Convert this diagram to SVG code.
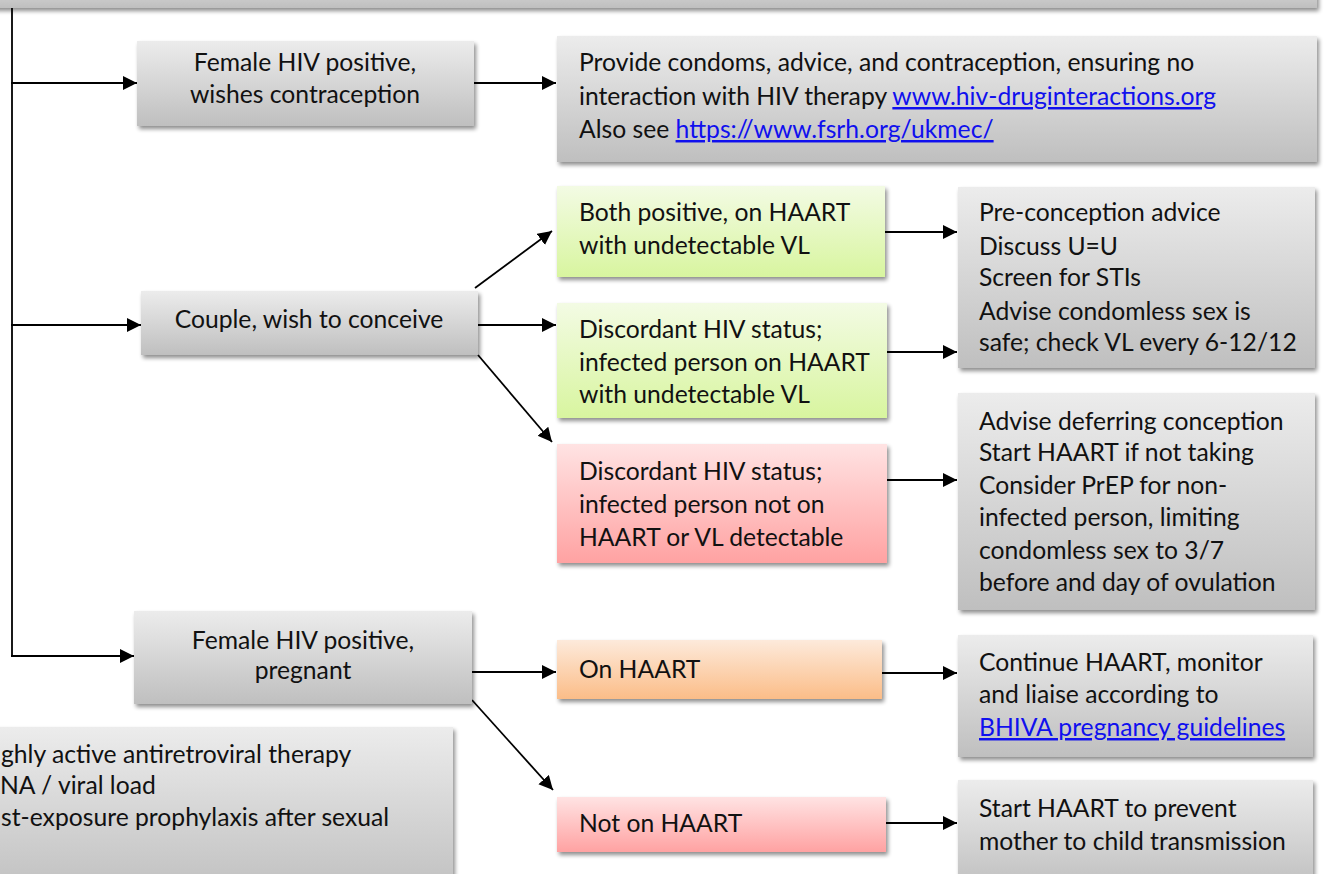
<svg xmlns="http://www.w3.org/2000/svg" width="1324" height="874" viewBox="0 0 1324 874">
<style>
text{font-family:Lato,"Open Sans","Liberation Sans",sans-serif;font-size:24.7px;fill:#111}
.c{text-anchor:middle}
.lk{fill:#1010ee;text-decoration:underline}
.con{stroke:#000;stroke-width:1.8;fill:none;marker-end:url(#ah)}
.gy{fill:url(#gGray);filter:url(#sh)}
.gn{fill:url(#gGreen);filter:url(#sh)}
.rd{fill:url(#gRed);filter:url(#sh)}
.or{fill:url(#gOrange);filter:url(#sh)}
</style>
<defs>
<linearGradient id="gGray" x1="0" y1="0" x2="0" y2="1"><stop offset="0" stop-color="#ececec"/><stop offset="1" stop-color="#bfbfbf"/></linearGradient>
<linearGradient id="gGreen" x1="0" y1="0" x2="0" y2="1"><stop offset="0" stop-color="#f3fbe4"/><stop offset="1" stop-color="#d8f59f"/></linearGradient>
<linearGradient id="gRed" x1="0" y1="0" x2="0" y2="1"><stop offset="0" stop-color="#ffe3e3"/><stop offset="1" stop-color="#ffa2a2"/></linearGradient>
<linearGradient id="gOrange" x1="0" y1="0" x2="0" y2="1"><stop offset="0" stop-color="#fdeadb"/><stop offset="1" stop-color="#fbbd88"/></linearGradient>
<filter id="sh" x="-5%" y="-10%" width="112%" height="130%">
<feGaussianBlur in="SourceAlpha" stdDeviation="2"/>
<feOffset dx="2" dy="3" result="o"/>
<feComponentTransfer><feFuncA type="linear" slope="0.45"/></feComponentTransfer>
<feMerge><feMergeNode/><feMergeNode in="SourceGraphic"/></feMerge>
</filter>
<marker id="ah" markerUnits="userSpaceOnUse" markerWidth="15" markerHeight="15" refX="14" refY="7" orient="auto"><path d="M0,0 L14,7 L0,14 z" fill="#000"/></marker>
</defs>
<rect width="1324" height="874" fill="#fff"/>

<g id="top-bar"><rect class="gy" x="-10" y="-30" width="1327" height="38"/></g>

<g id="connectors">
<path d="M12,8 V656" stroke="#000" stroke-width="1.8" fill="none"/>
<path class="con" d="M11,83 H137"/>
<path class="con" d="M11,325 H141"/>
<path class="con" d="M11,656 H134"/>
<path class="con" d="M474,83 H556"/>
<path class="con" d="M475,288 L552,231"/>
<path class="con" d="M478,325 H556"/>
<path class="con" d="M478,355 L552,442"/>
<path class="con" d="M885,232 H957"/>
<path class="con" d="M887,352 H957"/>
<path class="con" d="M887,480 H957"/>
<path class="con" d="M472,672 H556"/>
<path class="con" d="M472,700 L553,790"/>
<path class="con" d="M882,673 H957"/>
<path class="con" d="M886,823 H957"/>
</g>

<g id="n-contraception">
<rect class="gy" x="137" y="41" width="337" height="85"/>
<text class="c" x="305" y="71">Female HIV positive,</text>
<text class="c" x="305" y="103">wishes contraception</text>
</g>

<g id="n-contraception-advice">
<rect class="gy" x="557" y="36" width="760" height="126"/>
<text x="579" y="71">Provide condoms, advice, and contraception, ensuring no</text>
<text x="579" y="105">interaction with HIV therapy <tspan class="lk">www.hiv-druginteractions.org</tspan></text>
<text x="579" y="138">Also see <tspan class="lk">https://www.fsrh.org/ukmec/</tspan></text>
</g>

<g id="n-couple">
<rect class="gy" x="141" y="291" width="337" height="64"/>
<text class="c" x="309" y="328">Couple, wish to conceive</text>
</g>

<g id="n-both-positive">
<rect class="gn" x="557" y="186" width="328" height="91"/>
<text x="579" y="221">Both positive, on HAART</text>
<text x="579" y="254">with undetectable VL</text>
</g>

<g id="n-discordant-undetectable">
<rect class="gn" x="557" y="303" width="330" height="115"/>
<text x="579" y="338">Discordant HIV status;</text>
<text x="579" y="371">infected person on HAART</text>
<text x="579" y="403">with undetectable VL</text>
</g>

<g id="n-discordant-detectable">
<rect class="rd" x="557" y="444" width="330" height="119"/>
<text x="579" y="480">Discordant HIV status;</text>
<text x="579" y="513">infected person not on</text>
<text x="579" y="546">HAART or VL detectable</text>
</g>

<g id="n-preconception">
<rect class="gy" x="958" y="187" width="357" height="181"/>
<text x="979" y="221">Pre-conception advice</text>
<text x="979" y="255">Discuss U=U</text>
<text x="979" y="286">Screen for STIs</text>
<text x="979" y="320">Advise condomless sex is</text>
<text x="979" y="351">safe; check VL every 6-12/12</text>
</g>

<g id="n-defer">
<rect class="gy" x="958" y="393" width="357" height="217"/>
<text x="979" y="430">Advise deferring conception</text>
<text x="979" y="461">Start HAART if not taking</text>
<text x="979" y="494">Consider PrEP for non-</text>
<text x="979" y="526">infected person, limiting</text>
<text x="979" y="559">condomless sex to 3/7</text>
<text x="979" y="591">before and day of ovulation</text>
</g>

<g id="n-pregnant">
<rect class="gy" x="134" y="611" width="338" height="93"/>
<text class="c" x="303" y="649">Female HIV positive,</text>
<text class="c" x="303" y="679">pregnant</text>
</g>

<g id="n-on-haart">
<rect class="or" x="557" y="640" width="325" height="59"/>
<text x="579" y="678">On HAART</text>
</g>

<g id="n-not-on-haart">
<rect class="rd" x="557" y="797" width="329" height="55"/>
<text x="579" y="832">Not on HAART</text>
</g>

<g id="n-continue">
<rect class="gy" x="958" y="635" width="355" height="122"/>
<text x="979" y="671">Continue HAART, monitor</text>
<text x="979" y="703">and liaise according to</text>
<text x="979" y="736" class="lk">BHIVA pregnancy guidelines</text>
</g>

<g id="n-start">
<rect class="gy" x="958" y="780" width="355" height="110"/>
<text x="979" y="817">Start HAART to prevent</text>
<text x="979" y="850">mother to child transmission</text>
</g>

<g id="legend">
<rect class="gy" x="-20" y="727" width="473" height="170"/>
<text x="1" y="763">ghly active antiretroviral therapy</text>
<text x="0" y="794">NA / viral load</text>
<text x="1" y="826">st-exposure prophylaxis after sexual</text>
</g>
</svg>
